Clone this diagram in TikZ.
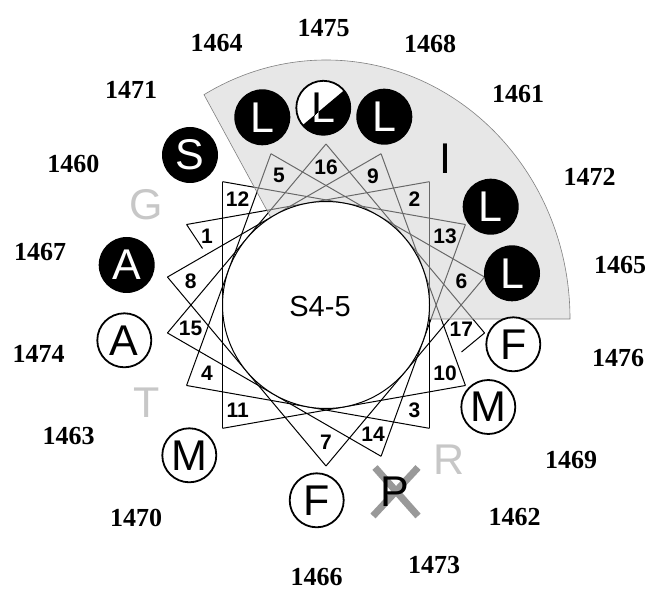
\documentclass[tikz,border=0pt]{standalone}
\usepackage{fontspec}
\setmainfont{Liberation Serif}
\setsansfont{Liberation Sans}
\usetikzlibrary{calc}
\newcommand{\wresfont}{\sffamily\fontsize{43}{43}\selectfont}
\newcommand{\wnumfont}{\sffamily\bfseries\fontsize{21}{21}\selectfont}
\newcommand{\wposfont}{\rmfamily\bfseries\fontsize{26}{26}\selectfont}
\begin{document}
\begin{tikzpicture}[x=1pt,y=1pt,
  chord/.style={line width=1pt, black},
  resb/.style={circle, fill=black, text=white, minimum size=56pt, inner sep=0pt, font=\wresfont},
  reso/.style={circle, draw=black, line width=1.8pt, fill=white, text=black, minimum size=54pt, inner sep=0pt, font=\wresfont},
  resg/.style={text=black!22, inner sep=0pt, font=\wresfont},
  numl/.style={font=\wnumfont, inner sep=0pt},
  posl/.style={font=\wposfont, inner sep=0pt}]
\fill[white] (0,0) rectangle (650,-593);
\useasboundingbox (0,0) rectangle (650,-593);
\coordinate (O) at (326,-305);
% apex points of the helical wheel
\foreach \i in {1,...,17}{
  \pgfmathsetmacro{\ang}{150-100*(\i-1)}
  \coordinate (p\i) at ($(O)+(\ang:161)$);
}
\foreach \i [evaluate=\i as \j using {int(\i+1)}] in {1,...,16}{
  \draw[chord] (p\i) -- (p\j);
}
\coordinate (s1) at (202.5,-248.5);
\coordinate (s17) at (461.5,-352);
\draw[chord] (p1) -- (s1);
\draw[chord] (p17) -- (s17);
% gray sector
\path[fill=black!18, fill opacity=0.5, draw=black!50, line width=0.6pt]
  (326,-319) -- ++(244,0) arc[start angle=0, end angle=120, x radius=244, y radius=259] -- cycle;
% core circle
\node[circle, draw=black, fill=white, line width=1pt, minimum size=207pt, inner sep=0pt] (core) at (O) {};
\node[font=\sffamily\fontsize{29}{29}\selectfont, inner sep=0pt] (lbl) at (320,-307) {S4-5};
% position numbers
\foreach \i in {1,...,17}{
  \pgfmathsetmacro{\ang}{150-100*(\i-1)}
  \node[numl] (n\i) at ($(O)+(\ang:137.5)$) {\i};
}
% residues
\node[resg] (r1) at (146,-205) {G};
\node[resb] (r12) at (190,-155) {S};
\node[resb] (r5) at (262.3,-117.3) {L};
\node[resb] (r9) at (384.3,-116.7) {L};
\node[font=\wresfont, inner sep=0pt] (r2) at (445.7,-158.3) {I};
\node[resb] (r13) at (490.7,-206.7) {L};
\node[resb] (r6) at (512,-273.3) {L};
\node[reso] (r17) at (513.3,-344.3) {F};
\node[reso] (r10) at (488.3,-407) {M};
\node[resg] (r3) at (449,-459.3) {R};
\node[reso] (r7) at (316.7,-500.3) {F};
\node[reso] (r11) at (189.3,-455.3) {M};
\node[resg] (r4) at (146.7,-402.7) {T};
\node[reso] (r15) at (124.3,-340.3) {A};
\node[resb] (r8) at (126.7,-265) {A};
% half black / half white L
\node[circle, fill=white, minimum size=56pt, inner sep=0pt] (r16) at (323.3,-107.8) {};
\fill[black] (r16.center) ++(40:27.5) arc[start angle=40, end angle=-140, radius=27.5] -- cycle;
\draw[line width=1.8pt] (r16.center) circle[radius=27];
\node[font=\wresfont, inner sep=0pt] (l16a) at (r16.center) {L};
\begin{scope}
  \clip (r16.center) ++(40:27.5) arc[start angle=40, end angle=-140, radius=27.5] -- cycle;
  \node[font=\wresfont, text=white, inner sep=0pt] (l16b) at (r16.center) {L};
\end{scope}
% crossed P
\coordinate (x1) at (375,-467.5);
\coordinate (x2) at (418,-516);
\coordinate (x3) at (418,-467.5);
\coordinate (x4) at (373,-516);
\draw[black!40, line width=7pt] (x1) -- (x2);
\draw[black!40, line width=7pt] (x3) -- (x4);
\node[font=\wresfont, inner sep=0pt] (r14) at (395,-492) {P};
% sequence numbers
\node[posl] (q1475) at (323.5,-28.5) {1475};
\node[posl] (q1464) at (216.7,-43.3) {1464};
\node[posl] (q1468) at (430,-44) {1468};
\node[posl] (q1471) at (131,-90) {1471};
\node[posl] (q1461) at (518,-94.5) {1461};
\node[posl] (q1460) at (73.3,-163.5) {1460};
\node[posl] (q1472) at (589.5,-177) {1472};
\node[posl] (q1467) at (40,-252.5) {1467};
\node[posl] (q1465) at (620,-265.5) {1465};
\node[posl] (q1474) at (38.7,-354) {1474};
\node[posl] (q1476) at (618,-358) {1476};
\node[posl] (q1463) at (68.7,-436) {1463};
\node[posl] (q1469) at (571,-460) {1469};
\node[posl] (q1470) at (136,-518) {1470};
\node[posl] (q1462) at (514.5,-517) {1462};
\node[posl] (q1473) at (434,-565) {1473};
\node[posl] (q1466) at (316.5,-577) {1466};
\end{tikzpicture}
\end{document}
